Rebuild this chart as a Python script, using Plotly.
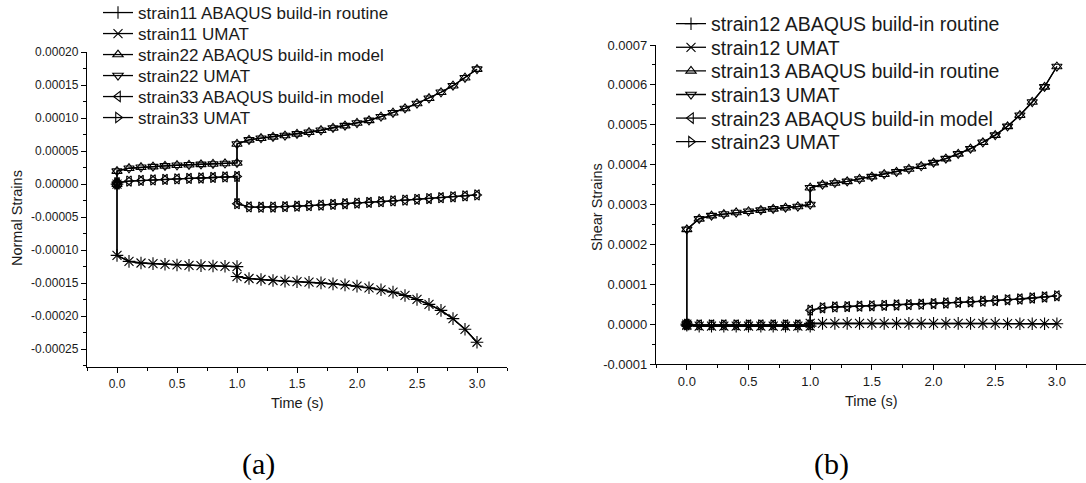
import plotly.graph_objects as go

# ---------------- data ----------------
time_s = [0.0, 0.0, 0.1, 0.2, 0.3, 0.4, 0.5, 0.6, 0.7, 0.8, 0.9, 1.0,
          1.0, 1.1, 1.2, 1.3, 1.4, 1.5, 1.6, 1.7, 1.8, 1.9, 2.0,
          2.1, 2.2, 2.3, 2.4, 2.5, 2.6, 2.7, 2.8, 2.9, 3.0]

# (a) normal strains
strain11 = [0.0, -10.8e-5, -11.7e-5, -11.95e-5, -12.05e-5, -12.15e-5, -12.25e-5, -12.3e-5,
            -12.35e-5, -12.4e-5, -12.45e-5, -12.5e-5,
            -14.0e-5, -14.3e-5, -14.45e-5, -14.6e-5, -14.7e-5, -14.78e-5, -14.86e-5, -14.96e-5,
            -15.11e-5, -15.26e-5, -15.46e-5, -15.71e-5, -16.01e-5, -16.36e-5, -16.87e-5,
            -17.47e-5, -18.22e-5, -19.13e-5, -20.38e-5, -21.99e-5, -23.95e-5]
strain22 = [0.0, 1.96e-5, 2.4e-5, 2.55e-5, 2.65e-5, 2.75e-5, 2.85e-5, 2.92e-5, 2.98e-5,
            3.05e-5, 3.12e-5, 3.2e-5,
            6.07e-5, 6.7e-5, 6.95e-5, 7.15e-5, 7.35e-5, 7.6e-5, 7.85e-5, 8.15e-5, 8.5e-5,
            8.85e-5, 9.25e-5, 9.65e-5, 10.2e-5, 10.8e-5, 11.45e-5, 12.2e-5, 13.0e-5,
            13.9e-5, 14.9e-5, 16.1e-5, 17.4e-5]
strain33 = [0.0, 0.2e-5, 0.45e-5, 0.55e-5, 0.62e-5, 0.7e-5, 0.78e-5, 0.85e-5, 0.92e-5,
            1.0e-5, 1.08e-5, 1.15e-5,
            -2.97e-5, -3.46e-5, -3.5e-5, -3.48e-5, -3.42e-5, -3.35e-5, -3.27e-5, -3.18e-5,
            -3.08e-5, -2.98e-5, -2.88e-5, -2.78e-5, -2.67e-5, -2.55e-5, -2.43e-5, -2.31e-5,
            -2.19e-5, -2.06e-5, -1.93e-5, -1.79e-5, -1.65e-5]

# (b) shear strains
strain12 = [0.0, -0.03e-4, -0.05e-4, -0.05e-4, -0.05e-4, -0.05e-4, -0.05e-4, -0.05e-4,
            -0.05e-4, -0.05e-4, -0.05e-4, -0.05e-4,
            0.02e-4, 0.02e-4, 0.02e-4, 0.02e-4, 0.02e-4, 0.02e-4, 0.02e-4, 0.02e-4, 0.02e-4,
            0.02e-4, 0.02e-4, 0.02e-4, 0.02e-4, 0.02e-4, 0.02e-4, 0.02e-4, 0.01e-4,
            0.01e-4, 0.01e-4, 0.01e-4, 0.01e-4]
strain13 = [0.0, 2.375e-4, 2.64e-4, 2.72e-4, 2.76e-4, 2.8e-4, 2.83e-4, 2.86e-4, 2.89e-4,
            2.92e-4, 2.95e-4, 3.0e-4,
            3.42e-4, 3.5e-4, 3.54e-4, 3.58e-4, 3.64e-4, 3.7e-4, 3.76e-4, 3.82e-4, 3.89e-4,
            3.96e-4, 4.05e-4, 4.15e-4, 4.27e-4, 4.4e-4, 4.56e-4, 4.74e-4, 4.96e-4,
            5.24e-4, 5.57e-4, 5.95e-4, 6.46e-4]
strain23 = [0.0, -0.02e-4, -0.02e-4, -0.02e-4, -0.02e-4, -0.02e-4, -0.02e-4, -0.02e-4,
            -0.02e-4, -0.02e-4, -0.02e-4, -0.02e-4,
            0.35e-4, 0.41e-4, 0.43e-4, 0.44e-4, 0.45e-4, 0.46e-4, 0.47e-4, 0.48e-4, 0.49e-4,
            0.50e-4, 0.515e-4, 0.53e-4, 0.545e-4, 0.56e-4, 0.575e-4, 0.59e-4, 0.61e-4,
            0.63e-4, 0.655e-4, 0.68e-4, 0.71e-4]

names_a = ["strain11 ABAQUS build-in routine", "strain11 UMAT",
           "strain22 ABAQUS build-in model", "strain22 UMAT",
           "strain33 ABAQUS build-in model", "strain33 UMAT"]
names_b = ["strain12 ABAQUS build-in routine", "strain12 UMAT",
           "strain13 ABAQUS build-in routine", "strain13 UMAT",
           "strain23 ABAQUS build-in model", "strain23 UMAT"]
series_a = [strain11, strain11, strain22, strain22, strain33, strain33]
series_b = [strain12, strain12, strain13, strain13, strain23, strain23]

x_ticks = [0.0, 0.5, 1.0, 1.5, 2.0, 2.5, 3.0]
x_ticktext = ["0.0", "0.5", "1.0", "1.5", "2.0", "2.5", "3.0"]
ya_ticks = [-0.00025, -0.0002, -0.00015, -0.0001, -0.00005, 0.0, 0.00005, 0.0001, 0.00015, 0.0002]
ya_ticktext = ["-0.00025", "-0.00020", "-0.00015", "-0.00010", "-0.00005", "0.00000",
               "0.00005", "0.00010", "0.00015", "0.00020"]
yb_ticks = [-0.0001, 0.0, 0.0001, 0.0002, 0.0003, 0.0004, 0.0005, 0.0006, 0.0007]
yb_ticktext = ["-0.0001", "0.0000", "0.0001", "0.0002", "0.0003", "0.0004", "0.0005",
               "0.0006", "0.0007"]

symbols = ["cross-thin-open", "x-thin-open", "triangle-up-open", "triangle-down-open",
           "triangle-left-open", "triangle-right-open"]

W, H = 1086, 483
def px(v):
    return v / W
def py(v):
    return 1 - v / H

fig = go.Figure()
for i in range(6):
    fig.add_trace(go.Scatter(
        x=time_s, y=series_a[i], name=names_a[i], mode="lines+markers",
        line=dict(color="black", width=1.3),
        marker=dict(symbol=symbols[i], size=9, color="black",
                    line=dict(color="black", width=1.1)),
        xaxis="x", yaxis="y", legend="legend" if i == 0 else "legend%d" % (i + 1)))
for i in range(6):
    fig.add_trace(go.Scatter(
        x=time_s, y=series_b[i], name=names_b[i], mode="lines+markers",
        line=dict(color="black", width=1.3),
        marker=dict(symbol=symbols[i], size=9, color="black",
                    line=dict(color="black", width=1.1)),
        xaxis="x2", yaxis="y2", legend="legend%d" % (i + 7)))

axis_common = dict(showline=True, linecolor="black", linewidth=1.3, ticks="outside",
                   ticklen=5, tickwidth=1.2, tickcolor="black", showgrid=False,
                   zeroline=False, mirror=False)

layout = dict(
    width=W, height=H, margin=dict(l=0, r=0, t=0, b=0, autoexpand=False),
    paper_bgcolor="white", plot_bgcolor="white",
    font=dict(family="Liberation Sans, Arial, sans-serif", color="#1a1a1a"),
    xaxis=dict(domain=[px(87), px(507)], range=[-0.25, 3.25], anchor="y",
               tickvals=x_ticks, ticktext=x_ticktext, tickfont=dict(size=12),
               minor=dict(tickmode="linear", tick0=0, dtick=0.25, ticks="outside",
                          ticklen=3, tickcolor="black"),
               **axis_common),
    yaxis=dict(domain=[py(367), py(52)], range=[-0.000277, 0.0002], anchor="x",
               tickvals=ya_ticks, ticktext=ya_ticktext, tickfont=dict(size=12),
               minor=dict(tickmode="linear", tick0=0, dtick=0.000025, ticks="outside",
                          ticklen=3, tickcolor="black"),
               **axis_common),
    xaxis2=dict(domain=[px(656), 1.0], range=[-0.25, 3.236], anchor="y2",
                tickvals=x_ticks, ticktext=x_ticktext, tickfont=dict(size=13),
                minor=dict(tickmode="linear", tick0=0, dtick=0.25, ticks="outside",
                           ticklen=3, tickcolor="black"),
                **axis_common),
    yaxis2=dict(domain=[py(364), py(45)], range=[-0.0001, 0.0007], anchor="x2",
                tickvals=yb_ticks, ticktext=yb_ticktext, tickfont=dict(size=13),
                minor=dict(tickmode="linear", tick0=0, dtick=0.00005, ticks="outside",
                           ticklen=3, tickcolor="black"),
                **axis_common),
    showlegend=True,
)

# one legend per entry, so that rows can be placed like the original
for i in range(6):
    key = "legend" if i == 0 else "legend%d" % (i + 1)
    layout[key] = dict(x=px(98), y=py(13 + 21 * i), xanchor="left", yanchor="middle",
                       bgcolor="rgba(0,0,0,0)", font=dict(size=17, color="#1a1a1a"),
                       borderwidth=0)
for i in range(6):
    key = "legend%d" % (i + 7)
    layout[key] = dict(x=px(671), y=py(24 + 23.6 * i), xanchor="left", yanchor="middle",
                       bgcolor="rgba(0,0,0,0)", font=dict(size=19.5, color="#1a1a1a"),
                       borderwidth=0)

fig.update_layout(**layout)

annots = [
    dict(text="Normal Strains", x=px(17), y=py(218), textangle=-90, font=dict(size=14.5)),
    dict(text="Time (s)", x=px(297), y=py(403), font=dict(size=14.5)),
    dict(text="Shear Strains", x=px(597), y=py(207), textangle=-90, font=dict(size=14.5)),
    dict(text="Time (s)", x=px(871), y=py(401), font=dict(size=14.5)),
    dict(text="(a)", x=px(258), y=py(464),
         font=dict(size=30, family="Liberation Serif, Times New Roman, serif", color="black")),
    dict(text="(b)", x=px(831), y=py(464),
         font=dict(size=30, family="Liberation Serif, Times New Roman, serif", color="black")),
]
for a in annots:
    fig.add_annotation(xref="paper", yref="paper", showarrow=False,
                       xanchor="center", yanchor="middle", **a)

fig.write_html("out.html")
